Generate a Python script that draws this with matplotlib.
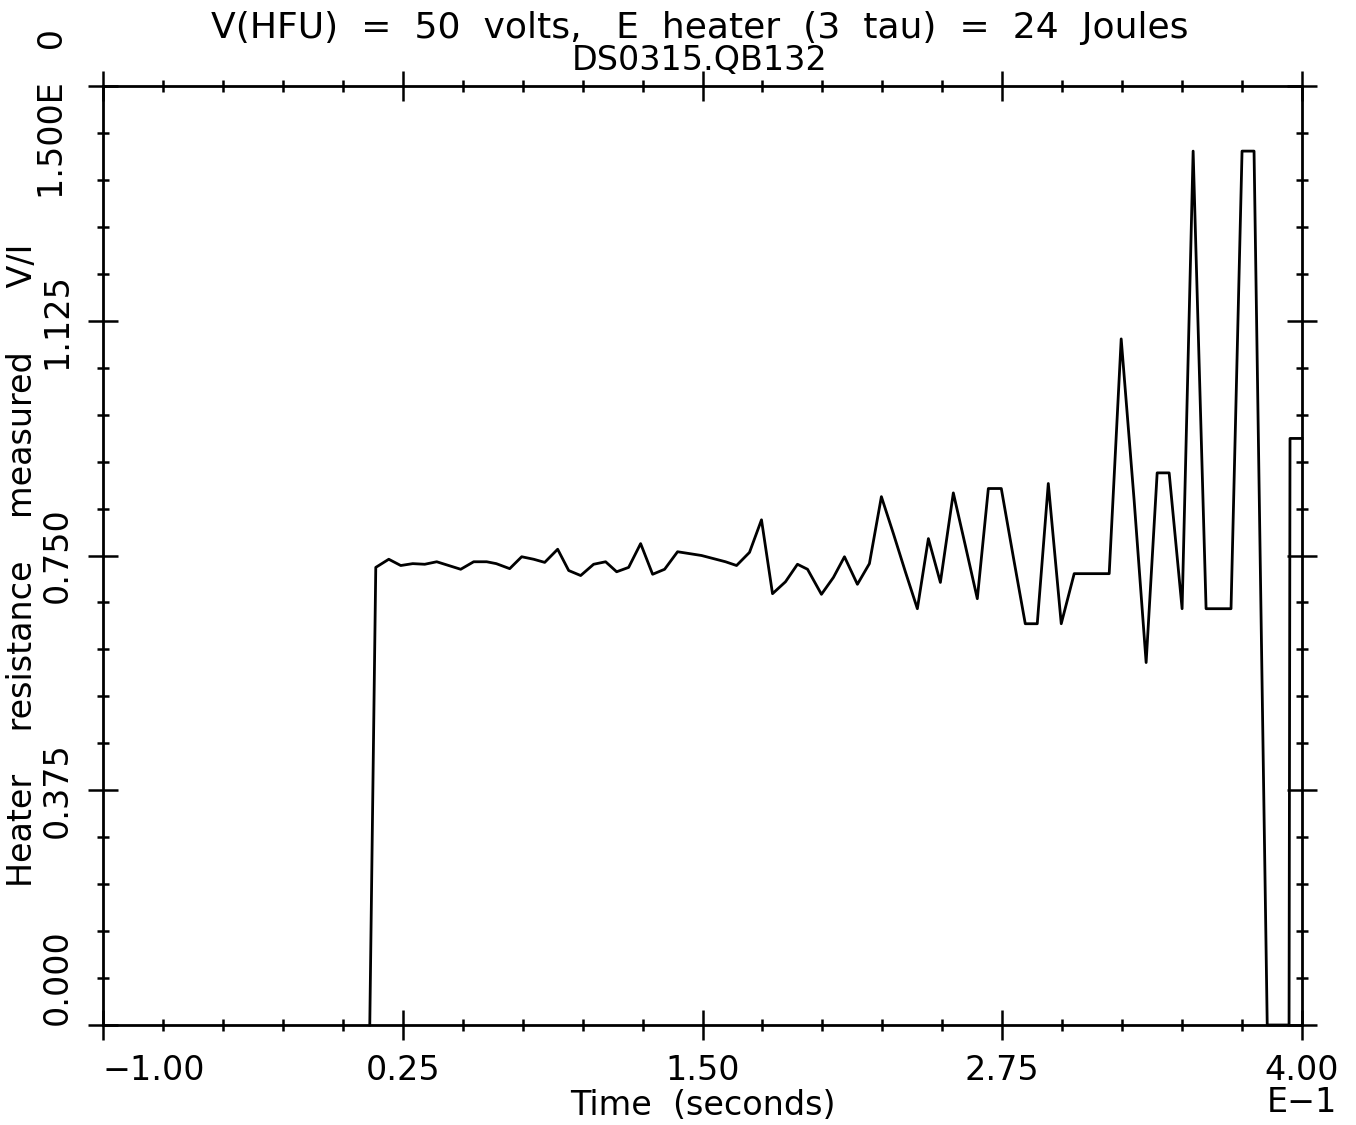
import matplotlib
matplotlib.use("Agg")
import matplotlib.pyplot as plt
from matplotlib.ticker import MultipleLocator
from matplotlib.transforms import blended_transform_factory

# heater resistance trace (time in units of 1E-1 s)
t = [0.1125, 0.1375, 0.1917, 0.2417, 0.2917, 0.3417, 0.3917, 0.4417, 0.4917,
     0.5458, 0.600, 0.640, 0.696, 0.746, 0.796, 0.842, 0.896, 0.942, 0.992,
     1.046, 1.096, 1.142, 1.192, 1.242, 1.292, 1.342, 1.396, 1.446, 1.496,
     1.546, 1.596, 1.642, 1.696, 1.746, 1.792, 1.846, 1.896, 1.938, 1.996,
     2.046, 2.092, 2.146, 2.196, 2.246, 2.296, 2.346, 2.396, 2.442, 2.492,
     2.546, 2.596, 2.646, 2.692, 2.746, 2.796, 2.846, 2.896, 2.942, 2.996,
     3.050, 3.100, 3.150, 3.196, 3.246, 3.300, 3.350, 3.396, 3.446, 3.500,
     3.546, 3.600, 3.650, 3.704, 3.750, 3.800, 3.855, 3.946, 3.950, 4.000]
r = [0.000, 0.731, 0.744, 0.734, 0.737, 0.736, 0.740, 0.734, 0.728,
     0.740, 0.740, 0.737, 0.729, 0.748, 0.744, 0.739, 0.760, 0.726, 0.718,
     0.736, 0.740, 0.724, 0.731, 0.769, 0.720, 0.728, 0.756, 0.753, 0.750,
     0.745, 0.740, 0.734, 0.755, 0.807, 0.689, 0.708, 0.736, 0.728, 0.688,
     0.715, 0.748, 0.704, 0.737, 0.844, 0.785, 0.724, 0.665, 0.777, 0.707,
     0.850, 0.766, 0.681, 0.857, 0.857, 0.748, 0.641, 0.641, 0.865, 0.641,
     0.721, 0.721, 0.721, 0.721, 1.096, 0.838, 0.579, 0.882, 0.882, 0.665,
     1.396, 0.665, 0.665, 0.665, 1.396, 1.396, 0.000, 0.000, 0.937, 0.937]

xticks = [-1.00, 0.25, 1.50, 2.75, 4.00]
xticklabels = ["\u22121.00", "0.25", "1.50", "2.75", "4.00"]
yticks = [0.000, 0.375, 0.750, 1.125, 1.500]
yticklabels = ["0.000", "0.375", "0.750", "1.125", ""]
ytop_label = "1.500E   0"

fig = plt.figure(figsize=(13.56, 11.25), dpi=100)
ax = fig.add_axes([103 / 1356, 100 / 1125, 1199 / 1356, 939 / 1125])

ax.plot(t, r, color="black", lw=2.0, clip_on=False)

ax.set_xlim(-1.0, 4.0)
ax.set_ylim(0.0, 1.5)
ax.set_xticks(xticks)
ax.set_xticklabels(xticklabels, fontsize=24)
ax.set_yticks(yticks)
ax.set_yticklabels(yticklabels, fontsize=24, rotation=90, va="center")
ax.xaxis.set_minor_locator(MultipleLocator(0.25))
ax.yaxis.set_minor_locator(MultipleLocator(0.075))
ax.tick_params(which="major", direction="inout", length=22, width=1.8,
               top=True, right=True, labeltop=False, labelright=False)
ax.tick_params(which="minor", direction="inout", length=9, width=1.8,
               top=True, right=True)
ax.tick_params(axis="x", which="major", pad=10)
ax.tick_params(axis="y", which="major", pad=10)
for s in ax.spines.values():
    s.set_linewidth(2.0)

lbls = ax.get_xticklabels()
lbls[0].set_ha("left")
ylbls = ax.get_yticklabels()
ylbls[0].set_va("bottom")

# top y label carries the exponent, sits a bit below its tick
trans = blended_transform_factory(ax.transAxes, ax.transData)
ax.text(-33 / 1199, 1.455, ytop_label, transform=trans, fontsize=24,
        rotation=90, ha="right", va="center")

ax.set_xlabel("Time  (seconds)", fontsize=24)
ax.xaxis.set_label_coords(0.5, -0.068)
ax.xaxis.label.set_va("top")
ax.set_ylabel("Heater    resistance    measured      V/I", fontsize=24)
ax.yaxis.set_label_coords(-0.053, 0.49)
ax.text(1.0, -0.083, "E\u22121", transform=ax.transAxes, fontsize=24,
        ha="center", va="center")

fig.text(700 / 1356, 1 - 28 / 1125,
         "V(HFU)  =  50  volts,   E  heater  (3  tau)  =  24  Joules",
         fontsize=26, ha="center", va="center")
fig.text(700 / 1356, 1 - 60 / 1125, "DS0315.QB132", fontsize=24,
         ha="center", va="center")

fig.savefig("out.png", dpi=100, facecolor="white")
